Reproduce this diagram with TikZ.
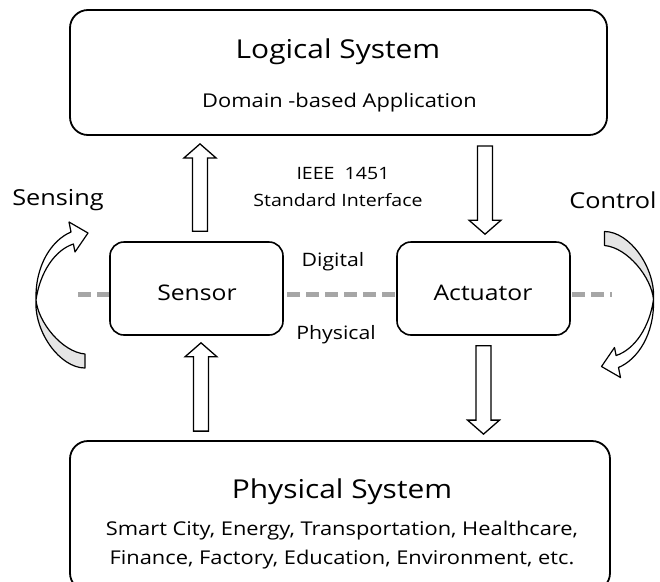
\documentclass[tikz,border=0pt]{standalone}
\usepackage{fontspec}
\setmainfont{Open Sans}[FakeStretch=1.15]
\usetikzlibrary{calc}
\newcommand\upblock[2]{\draw[blk] let \p1=(#1),\p2=(#2) in (\x1,\y2) -- (\x1+16pt,\y2-14pt) -- (\x1+7.5pt,\y2-14pt) -- (\x1+7.5pt,\y1) -- (\x1-7.5pt,\y1) -- (\x1-7.5pt,\y2-14pt) -- (\x1-16pt,\y2-14pt) -- cycle;}
\newcommand\downblock[2]{\draw[blk] let \p1=(#1),\p2=(#2) in (\x1,\y2) -- (\x1+16pt,\y2+14pt) -- (\x1+7.5pt,\y2+14pt) -- (\x1+7.5pt,\y1) -- (\x1-7.5pt,\y1) -- (\x1-7.5pt,\y2+14pt) -- (\x1-16pt,\y2+14pt) -- cycle;}
\newcommand\ribbonarrow{%
 \fill[ribfill] (85,368) .. controls (60,368) and (34,332) .. (36,300) .. controls (38,322) and (62,352) .. (85,354) -- cycle;
 \draw[rib] (85,354) -- (85,368) .. controls (60,368) and (34,332) .. (36,300)
   .. controls (35,265) and (52,240) .. (71,232) -- (69,222) -- (88,233) -- (75,252) -- (73.4,244)
   .. controls (55,250) and (40,272) .. (36,300) .. controls (38,322) and (62,352) .. (85,354) -- cycle;}
\newcommand\fs[1]{\fontsize{#1}{#1}\selectfont}
\begin{document}
\begin{tikzpicture}[x=1pt,y=-1pt]
\tikzset{
 bigbox/.style={draw, line width=1.8pt, fill=white, rounded corners=18pt, inner sep=0pt},
 smallbox/.style={draw, line width=1.6pt, fill=white, rounded corners=14pt, inner sep=0pt},
 blk/.style={draw, line width=1.3pt, fill=white, line join=miter},
 rib/.style={draw, line width=1.2pt, line join=round},
 ribfill/.style={fill=gray!20},
 dashline/.style={draw=gray!70, line width=5pt, dash pattern=on 13pt off 6pt},
 lbl/.style={inner sep=0pt, anchor=base}
}
\useasboundingbox (0,0) rectangle (660,581);
\clip (0,0) rectangle (660,581);
% dashed separator
\coordinate (dashL) at (78,294);
\coordinate (dashR) at (612,294);
\draw[dashline] (dashL) -- (dashR);
% boxes
\node[bigbox, minimum width=537pt, minimum height=125pt] (logical) at (338.5,72.5) {};
\node[bigbox, minimum width=540pt, minimum height=150pt] (physical) at (340,516) {};
\node[smallbox, minimum width=173pt, minimum height=93pt] (sensor) at (196.5,288.5) {};
\node[smallbox, minimum width=173pt, minimum height=93pt] (actuator) at (483.5,288.5) {};
% texts
\node[lbl] (tlog) at (338,58) {\fs{26}Logical System};
\node[lbl] (tdom) at (339.5,107) {\fs{19}Domain -based Application};
\node[lbl] (tieee) at (343,179) {\fs{17}IEEE~ 1451};
\node[lbl] (tstd) at (338,206) {\fs{17}Standard Interface};
\node[lbl] (tdig) at (333,266) {\fs{18.5}Digital};
\node[lbl] (tphy) at (336,339) {\fs{18.5}Physical};
\node[lbl] (tsen) at (197,300) {\fs{21.5}Sensor};
\node[lbl] (tact) at (483,300) {\fs{21.5}Actuator};
\node[lbl] (tsensing) at (58,205) {\fs{22}Sensing};
\node[lbl] (tcontrol) at (613,208) {\fs{22}Control};
\node[lbl] (tpsys) at (342,498) {\fs{26}Physical System};
\node[lbl] (tl1) at (342,535) {\fs{19}Smart City, Energy, Transportation, Healthcare,};
\node[lbl] (tl2) at (342,564) {\fs{19}Finance, Factory, Education, Environment, etc.};
% block arrows
\coordinate (a1s) at ($(sensor.north)+(3.5,-10)$);
\coordinate (a1t) at ($(a1s |- logical.south)+(0,8)$);
\upblock{a1s}{a1t}
\coordinate (a2s) at ($(sensor.south |- physical.north)+(4.5,-9)$);
\coordinate (a2t) at ($(a2s |- sensor.south)+(0,7)$);
\upblock{a2s}{a2t}
\coordinate (a3s) at ($(actuator.north |- logical.south)+(1.5,10)$);
\coordinate (a3t) at ($(a3s |- actuator.north)+(0,-7)$);
\downblock{a3s}{a3t}
\coordinate (a4s) at ($(actuator.south)+(0,10)$);
\coordinate (a4t) at ($(a4s |- physical.north)+(0,-6)$);
\downblock{a4s}{a4t}
% curved ribbon arrows
\ribbonarrow
\begin{scope}[rotate around={180:(344.75,299.75)}]
\ribbonarrow
\end{scope}
\end{tikzpicture}
\end{document}
